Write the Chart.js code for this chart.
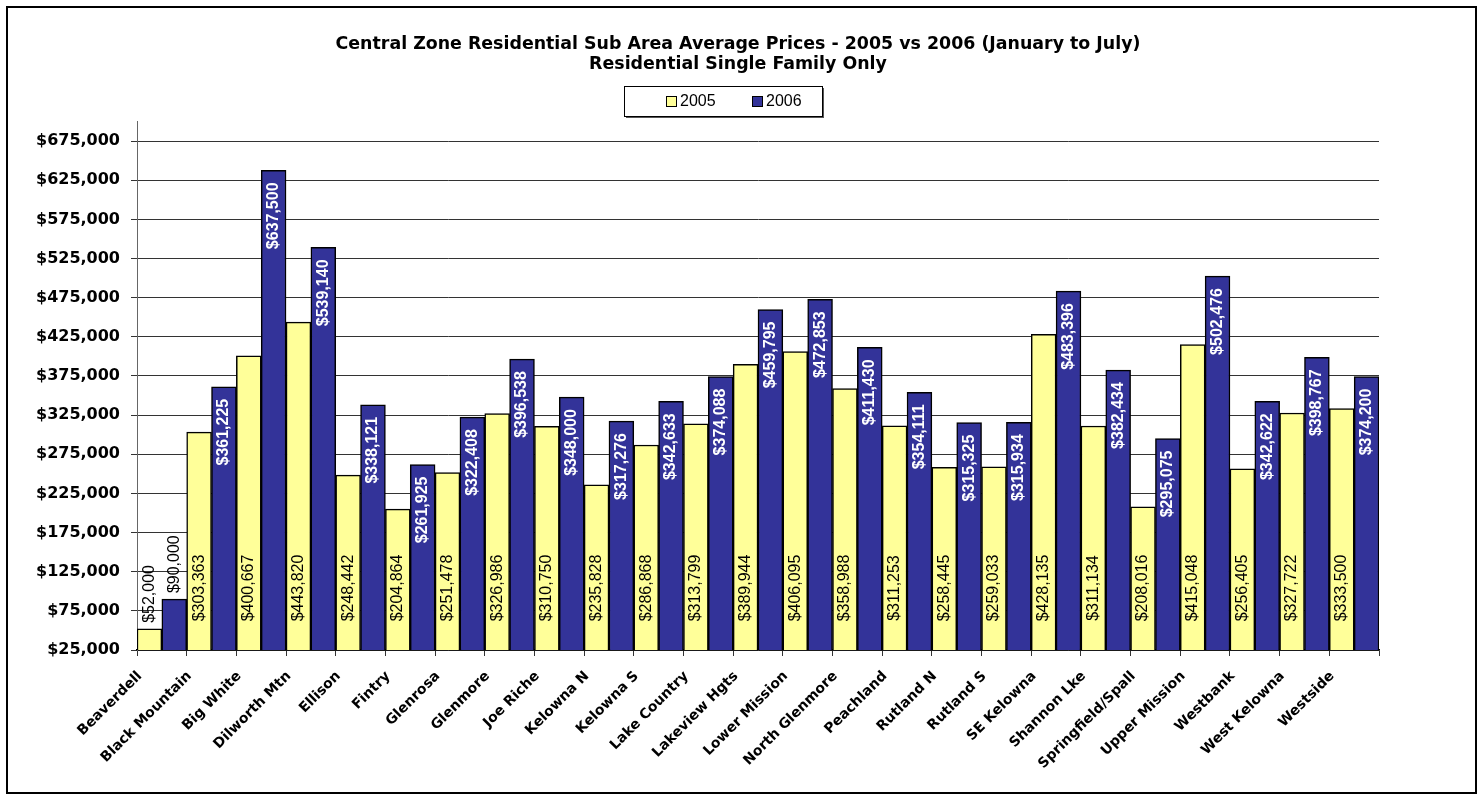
<!DOCTYPE html>
<html>
<head>
<meta charset="utf-8">
<title>Central Zone Residential Sub Area Average Prices</title>
<script src="https://cdn.jsdelivr.net/npm/chart.js@4.4.1/dist/chart.umd.min.js"></script>
<style>
    html, body { margin: 0; padding: 0; background: #ffffff; }
    canvas { display: block; }
</style>
</head>
<body>
<canvas id="price-chart" width="1483" height="794"></canvas>
<script>
// 子区域名称
const subAreas = [
    'Beaverdell', 'Black Mountain', 'Big White', 'Dilworth Mtn', 'Ellison',
    'Fintry', 'Glenrosa', 'Glenmore', 'Joe Riche', 'Kelowna N',
    'Kelowna S', 'Lake Country', 'Lakeview Hgts', 'Lower Mission', 'North Glenmore',
    'Peachland', 'Rutland N', 'Rutland S', 'SE Kelowna', 'Shannon Lke',
    'Springfield/Spall', 'Upper Mission', 'Westbank', 'West Kelowna', 'Westside'
];

// 2005 年平均价格
const prices2005 = [
    52000, 303363, 400667, 443820, 248442,
    204864, 251478, 326986, 310750, 235828,
    286868, 313799, 389944, 406095, 358988,
    311253, 258445, 259033, 428135, 311134,
    208016, 415048, 256405, 327722, 333500
];

// 2006 年平均价格
const prices2006 = [
    90000, 361225, 637500, 539140, 338121,
    261925, 322408, 396538, 348000, 317276,
    342633, 374088, 459795, 472853, 411430,
    354111, 315325, 315934, 483396, 382434,
    295075, 502476, 342622, 398767, 374200
];

// 纵轴刻度
const yTicks = [25000, 75000, 125000, 175000, 225000, 275000, 325000,
    375000, 425000, 475000, 525000, 575000, 625000, 675000];
const yMin = 25000;
const yMax = 700000;

const seriesLabels = ['2005', '2006'];

const titleLines = [
    'Central Zone Residential Sub Area Average Prices - 2005 vs 2006 (January to July)',
    'Residential Single Family Only'
];

const COLOR_2005 = '#FFFF99';
const COLOR_2006 = '#333399';

/**
 * 价格格式化: $303,363
 */
function formatPrice(value) {
    return '$' + Number(value).toLocaleString('en-US');
}

/**
 * 外框、标题和图例
 * 标题居中于整张图, 不随绘图区偏移
 */
const framePlugin = {
    id: 'frame',
    afterDraw(chart) {
        const ctx = chart.ctx;
        ctx.save();
        // 外框
        ctx.strokeStyle = '#000000';
        ctx.lineWidth = 2;
        ctx.strokeRect(7, 7, chart.width - 14, chart.height - 8);

        // 标题
        ctx.fillStyle = '#000000';
        ctx.font = 'bold 17.4px "DejaVu Sans", sans-serif';
        ctx.textAlign = 'center';
        ctx.textBaseline = 'middle';
        titleLines.forEach((line, i) => {
            ctx.fillText(line, 738, 44 + i * 20);
        });

        // 图例框 (带阴影)
        const box = { left: 624, top: 86, width: 198, height: 30 };
        ctx.fillStyle = '#555555';
        ctx.fillRect(box.left + 2, box.top + 2, box.width, box.height);
        ctx.fillStyle = '#ffffff';
        ctx.fillRect(box.left, box.top, box.width, box.height);
        ctx.strokeStyle = '#000000';
        ctx.lineWidth = 1;
        ctx.strokeRect(box.left + 0.5, box.top + 0.5, box.width, box.height);

        ctx.font = '16px "Liberation Sans", Arial, sans-serif';
        ctx.textAlign = 'left';
        chart.data.datasets.forEach((ds, i) => {
            const x = box.left + 42 + i * 86;
            const y = box.top + box.height / 2;
            ctx.fillStyle = ds.backgroundColor;
            ctx.fillRect(x, y - 5, 11, 11);
            ctx.strokeStyle = '#000000';
            ctx.strokeRect(x + 0.5, y - 5 + 0.5, 10, 10);
            ctx.fillStyle = '#000000';
            ctx.fillText(ds.label, x + 14, y + 1);
        });
        ctx.restore();
    }
};

/**
 * 柱形数值标签, 竖排
 */
const barLabelPlugin = {
    id: 'barLabels',
    afterDatasetsDraw(chart) {
        const ctx = chart.ctx;
        const bottom = chart.chartArea.bottom;
        ctx.save();
        chart.data.datasets.forEach((ds, i) => {
            const meta = chart.getDatasetMeta(i);
            meta.data.forEach((bar, j) => {
                const text = formatPrice(ds.data[j]);
                // 零值在绘图区下方, 以横轴为底
                const base = Math.min(bar.base, bottom);
                const height = base - bar.y;
                ctx.font = (i === 1 ? 'bold ' : '') + '16px "Liberation Sans", Arial, sans-serif';
                const w = ctx.measureText(text).width;
                ctx.save();
                ctx.textBaseline = 'middle';
                if (i === 0 && height > w + 10) {
                    // 2005: 靠近底部
                    const cy = Math.max(base - 62, bar.y + w / 2 + 5);
                    ctx.translate(bar.x, cy);
                    ctx.rotate(-Math.PI / 2);
                    ctx.textAlign = 'center';
                    ctx.fillStyle = '#000000';
                } else if (i === 1 && height > w + 16) {
                    // 2006: 顶部内侧, 白字
                    ctx.translate(bar.x, bar.y + 12);
                    ctx.rotate(-Math.PI / 2);
                    ctx.textAlign = 'right';
                    ctx.fillStyle = '#ffffff';
                } else {
                    // 柱子太矮, 标签放在上方
                    ctx.font = '16px "Liberation Sans", Arial, sans-serif';
                    ctx.translate(bar.x, bar.y - 6);
                    ctx.rotate(-Math.PI / 2);
                    ctx.textAlign = 'left';
                    ctx.fillStyle = '#000000';
                }
                ctx.fillText(text, 0, 0);
                ctx.restore();
            });
        });
        ctx.restore();
    }
};

/**
 * 初始化价格对比柱状图
 */
function initPriceChart() {
    const ctx = document.getElementById('price-chart').getContext('2d');

    new Chart(ctx, {
        type: 'bar',
        data: {
            labels: subAreas,
            datasets: [
                {
                    label: seriesLabels[0],
                    data: prices2005,
                    backgroundColor: COLOR_2005,
                    borderColor: '#000000',
                    borderWidth: 1.5,
                    barPercentage: 1,
                    categoryPercentage: 1
                },
                {
                    label: seriesLabels[1],
                    data: prices2006,
                    backgroundColor: COLOR_2006,
                    borderColor: '#000000',
                    borderWidth: 1.5,
                    barPercentage: 1,
                    categoryPercentage: 1
                }
            ]
        },
        options: {
            responsive: false,
            animation: false,
            layout: {
                padding: { left: 10, right: 104, top: 121.5, bottom: 10 }
            },
            plugins: {
                legend: { display: false },
                tooltip: { enabled: false },
                title: { display: false }
            },
            scales: {
                x: {
                    grid: {
                        drawOnChartArea: false,
                        drawTicks: true,
                        tickLength: 6,
                        offset: true,
                        color: '#333333'
                    },
                    border: { display: true, color: '#000000', width: 1.5 },
                    ticks: {
                        autoSkip: false,
                        minRotation: 45,
                        maxRotation: 45,
                        color: '#000000',
                        padding: 12,
                        labelOffset: -22,
                        font: { family: 'DejaVu Sans', size: 14, weight: 'bold' }
                    },
                    afterFit(scale) {
                        scale.height = 134;
                    }
                },
                y: {
                    min: yMin,
                    max: yMax,
                    afterBuildTicks(scale) {
                        scale.ticks = yTicks.map(v => ({ value: v }));
                    },
                    grid: {
                        color: '#333333',
                        lineWidth: 1,
                        drawTicks: true,
                        tickLength: 6
                    },
                    border: { display: true, color: '#666666', width: 1 },
                    ticks: {
                        color: '#000000',
                        padding: 11,
                        font: { family: 'DejaVu Sans', size: 16, weight: 'bold' },
                        callback: value => formatPrice(value)
                    },
                    afterFit(scale) {
                        scale.width = 127;
                    }
                }
            }
        },
        plugins: [barLabelPlugin, framePlugin]
    });
}

initPriceChart();
</script>
</body>
</html>
